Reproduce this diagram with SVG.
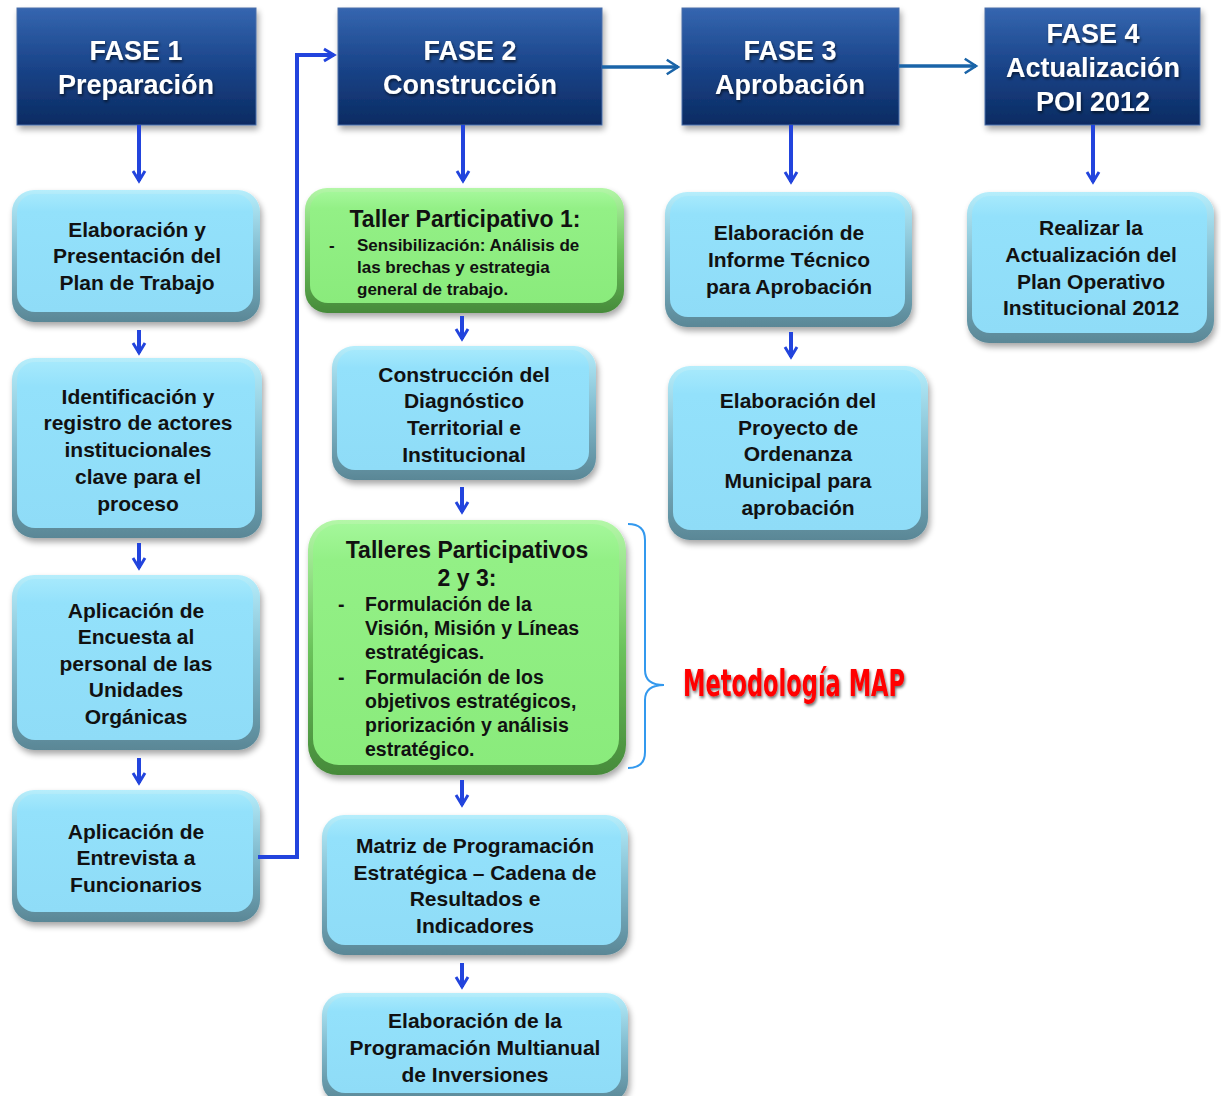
<svg xmlns="http://www.w3.org/2000/svg" width="1221" height="1096" viewBox="0 0 1221 1096">
<defs>
<linearGradient id="hdr" x1="0" y1="0" x2="0" y2="1"><stop offset="0" stop-color="#3566b0"/><stop offset="0.5" stop-color="#1a4489"/><stop offset="1" stop-color="#0b2b62"/></linearGradient>
<linearGradient id="bRim" x1="0" y1="0" x2="0" y2="1"><stop offset="0" stop-color="#b6eefc"/><stop offset="0.5" stop-color="#7fb9cc"/><stop offset="1" stop-color="#5a8796"/></linearGradient>
<linearGradient id="bIn" x1="0" y1="0" x2="0" y2="1"><stop offset="0" stop-color="#a6e9fc"/><stop offset="0.15" stop-color="#93e1fb"/><stop offset="1" stop-color="#8fdcf7"/></linearGradient>
<linearGradient id="gRim" x1="0" y1="0" x2="0" y2="1"><stop offset="0" stop-color="#b4f7a8"/><stop offset="0.5" stop-color="#6cc35c"/><stop offset="1" stop-color="#468a3a"/></linearGradient>
<linearGradient id="gIn" x1="0" y1="0" x2="0" y2="1"><stop offset="0" stop-color="#a4f79a"/><stop offset="0.15" stop-color="#93f086"/><stop offset="1" stop-color="#8aeb7c"/></linearGradient>
<filter id="sh" x="-10%" y="-10%" width="125%" height="130%"><feGaussianBlur in="SourceAlpha" stdDeviation="3"/><feOffset dx="2" dy="4"/><feComponentTransfer><feFuncA type="linear" slope="0.35"/></feComponentTransfer><feMerge><feMergeNode/><feMergeNode in="SourceGraphic"/></feMerge></filter>
<filter id="tsh" x="-10%" y="-20%" width="120%" height="140%"><feGaussianBlur in="SourceAlpha" stdDeviation="1.5"/><feOffset dx="1" dy="2"/><feComponentTransfer><feFuncA type="linear" slope="0.6"/></feComponentTransfer><feMerge><feMergeNode/><feMergeNode in="SourceGraphic"/></feMerge></filter>
<marker id="ah" viewBox="0 0 12 12" refX="10" refY="6" markerWidth="4" markerHeight="4" orient="auto" markerUnits="strokeWidth"><polyline points="2.5,1.5 10,6 2.5,10.5" fill="none" stroke="#2244dd" stroke-width="2.2" stroke-linejoin="miter"/></marker>
<marker id="ahH" viewBox="0 0 12 12" refX="10" refY="6" markerWidth="5.5" markerHeight="5.5" orient="auto" markerUnits="strokeWidth"><polyline points="3,1.5 10,6 3,10.5" fill="none" stroke="#1a64a8" stroke-width="1.6" stroke-linejoin="miter"/></marker>
</defs>
<style>
.hdrBox{fill:url(#hdr);stroke:#4a6ea8;stroke-width:1;filter:url(#sh)}
.hdrT{font-family:"Liberation Sans",Arial,sans-serif;font-weight:bold;font-size:27px;fill:#ffffff;text-anchor:middle;filter:url(#tsh)}
.bRim{fill:url(#bRim);filter:url(#sh)}
.bIn{fill:url(#bIn)}
.gRim{fill:url(#gRim);filter:url(#sh)}
.gIn{fill:url(#gIn)}
.t{font-family:"Liberation Sans",Arial,sans-serif;font-weight:bold;font-size:21px;fill:#111;text-anchor:middle}
.gt{font-family:"Liberation Sans",Arial,sans-serif;font-weight:bold;font-size:23px;fill:#111;text-anchor:middle}
.g1{font-family:"Liberation Sans",Arial,sans-serif;font-weight:bold;font-size:17px;fill:#111}
.g2{font-family:"Liberation Sans",Arial,sans-serif;font-weight:bold;font-size:19.5px;fill:#111}
.arr{fill:none;stroke:#2244dd;stroke-width:4;marker-end:url(#ah)}
.harr{fill:none;stroke:#1a64a8;stroke-width:3.5;marker-end:url(#ahH)}
.map{font-family:"Liberation Sans Narrow","DejaVu Sans Condensed",Impact,sans-serif;font-weight:bold;font-size:38px;fill:#ff0000;filter:url(#tsh)}
</style>

<g id="fase1"><rect class="hdrBox" x="17" y="8" width="239" height="117"/><text class="hdrT" x="136" y="60">FASE 1</text><text class="hdrT" x="136" y="94">Preparación</text></g>
<g id="fase2"><rect class="hdrBox" x="338" y="8" width="264" height="117"/><text class="hdrT" x="470" y="60">FASE 2</text><text class="hdrT" x="470" y="94">Construcción</text></g>
<g id="fase3"><rect class="hdrBox" x="682" y="8" width="217" height="117"/><text class="hdrT" x="790" y="60">FASE 3</text><text class="hdrT" x="790" y="94">Aprobación</text></g>
<g id="fase4"><rect class="hdrBox" x="985" y="8" width="215" height="117"/><text class="hdrT" x="1093" y="43">FASE 4</text><text class="hdrT" x="1093" y="77">Actualización</text><text class="hdrT" x="1093" y="111">POI 2012</text></g>

<g id="c1b1"><rect class="bRim" x="12" y="190" width="248" height="132" rx="22"/><rect class="bIn" x="17" y="194" width="236" height="118" rx="18"/>
<text class="t" x="137" y="237">Elaboración y</text><text class="t" x="137" y="263">Presentación del</text><text class="t" x="137" y="290">Plan de Trabajo</text></g>
<g id="c1b2"><rect class="bRim" x="12" y="358" width="250" height="180" rx="22"/><rect class="bIn" x="17" y="362" width="238" height="166" rx="18"/>
<text class="t" x="138" y="404">Identificación y</text><text class="t" x="138" y="430">registro de actores</text><text class="t" x="138" y="457">institucionales</text><text class="t" x="138" y="484">clave para el</text><text class="t" x="138" y="511">proceso</text></g>
<g id="c1b3"><rect class="bRim" x="12" y="575" width="248" height="175" rx="22"/><rect class="bIn" x="17" y="579" width="236" height="161" rx="18"/>
<text class="t" x="136" y="618">Aplicación de</text><text class="t" x="136" y="644">Encuesta al</text><text class="t" x="136" y="671">personal de las</text><text class="t" x="136" y="697">Unidades</text><text class="t" x="136" y="724">Orgánicas</text></g>
<g id="c1b4"><rect class="bRim" x="12" y="790" width="248" height="132" rx="22"/><rect class="bIn" x="17" y="794" width="236" height="118" rx="18"/>
<text class="t" x="136" y="839">Aplicación de</text><text class="t" x="136" y="865">Entrevista a</text><text class="t" x="136" y="892">Funcionarios</text></g>

<g id="taller1"><rect class="gRim" x="305" y="188" width="319" height="125" rx="22"/><rect class="gIn" x="310" y="192" width="307" height="111" rx="18"/>
<text class="gt" x="465" y="227">Taller Participativo 1:</text>
<text class="g1" x="329" y="251">-</text><text class="g1" x="357" y="251">Sensibilización: Análisis de</text><text class="g1" x="357" y="273">las brechas y estrategia</text><text class="g1" x="357" y="295">general de trabajo.</text></g>
<g id="diag"><rect class="bRim" x="332" y="346" width="264" height="134" rx="22"/><rect class="bIn" x="337" y="350" width="252" height="120" rx="18"/>
<text class="t" x="464" y="382">Construcción del</text><text class="t" x="464" y="408">Diagnóstico</text><text class="t" x="464" y="435">Territorial e</text><text class="t" x="464" y="462">Institucional</text></g>
<g id="taller23"><rect class="gRim" x="308" y="520" width="318" height="255" rx="30"/><rect class="gIn" x="313" y="524" width="306" height="241" rx="26"/>
<text class="gt" x="467" y="558">Talleres Participativos</text><text class="gt" x="467" y="586">2 y 3:</text>
<text class="g2" x="338" y="611">-</text><text class="g2" x="365" y="611">Formulación de la</text><text class="g2" x="365" y="635">Visión, Misión y Líneas</text><text class="g2" x="365" y="659">estratégicas.</text>
<text class="g2" x="338" y="684">-</text><text class="g2" x="365" y="684">Formulación de los</text><text class="g2" x="365" y="708">objetivos estratégicos,</text><text class="g2" x="365" y="732">priorización y análisis</text><text class="g2" x="365" y="756">estratégico.</text></g>
<g id="matriz"><rect class="bRim" x="322" y="815" width="306" height="140" rx="22"/><rect class="bIn" x="327" y="819" width="294" height="126" rx="18"/>
<text class="t" x="475" y="853">Matriz de Programación</text><text class="t" x="475" y="880">Estratégica – Cadena de</text><text class="t" x="475" y="906">Resultados e</text><text class="t" x="475" y="933">Indicadores</text></g>
<g id="pmi"><rect class="bRim" x="322" y="993" width="306" height="110" rx="22"/><rect class="bIn" x="327" y="997" width="294" height="96" rx="18"/>
<text class="t" x="475" y="1028">Elaboración de la</text><text class="t" x="475" y="1055">Programación Multianual</text><text class="t" x="475" y="1082">de Inversiones</text></g>

<g id="informe"><rect class="bRim" x="665" y="192" width="247" height="135" rx="22"/><rect class="bIn" x="670" y="196" width="235" height="121" rx="18"/>
<text class="t" x="789" y="240">Elaboración de</text><text class="t" x="789" y="267">Informe Técnico</text><text class="t" x="789" y="294">para Aprobación</text></g>
<g id="ordenanza"><rect class="bRim" x="668" y="366" width="260" height="174" rx="22"/><rect class="bIn" x="673" y="370" width="248" height="160" rx="18"/>
<text class="t" x="798" y="408">Elaboración del</text><text class="t" x="798" y="435">Proyecto de</text><text class="t" x="798" y="461">Ordenanza</text><text class="t" x="798" y="488">Municipal para</text><text class="t" x="798" y="515">aprobación</text></g>

<g id="poi"><rect class="bRim" x="967" y="192" width="247" height="151" rx="22"/><rect class="bIn" x="972" y="196" width="235" height="137" rx="18"/>
<text class="t" x="1091" y="235">Realizar la</text><text class="t" x="1091" y="262">Actualización del</text><text class="t" x="1091" y="289">Plan Operativo</text><text class="t" x="1091" y="315">Institucional 2012</text></g>

<g id="metodologia">
<path d="M628,524 Q645,524 645,540 L645,670 Q645,685 664,685 Q645,685 645,700 L645,752 Q645,768 628,768" fill="none" stroke="#3399ee" stroke-width="2"/>
<text class="map" x="683" y="696" textLength="222" lengthAdjust="spacingAndGlyphs">Metodología MAP</text>
</g>

<g id="connectors">
<path class="harr" d="M602,67 L678,67"/>
<path class="harr" d="M899,66 L976,66"/>
<path class="arr" d="M139,125 L139,181"/>
<path class="arr" d="M139,330 L139,353"/>
<path class="arr" d="M139,543 L139,568"/>
<path class="arr" d="M139,758 L139,783"/>
<path class="arr" d="M258,857 L297,857 L297,55 L334,55"/>
<path class="arr" d="M463,125 L463,181"/>
<path class="arr" d="M462,316 L462,339"/>
<path class="arr" d="M462,487 L462,512"/>
<path class="arr" d="M462,780 L462,805"/>
<path class="arr" d="M462,963 L462,987"/>
<path class="arr" d="M791,125 L791,182"/>
<path class="arr" d="M791,332 L791,357"/>
<path class="arr" d="M1093,125 L1093,182"/>
</g>
</svg>
